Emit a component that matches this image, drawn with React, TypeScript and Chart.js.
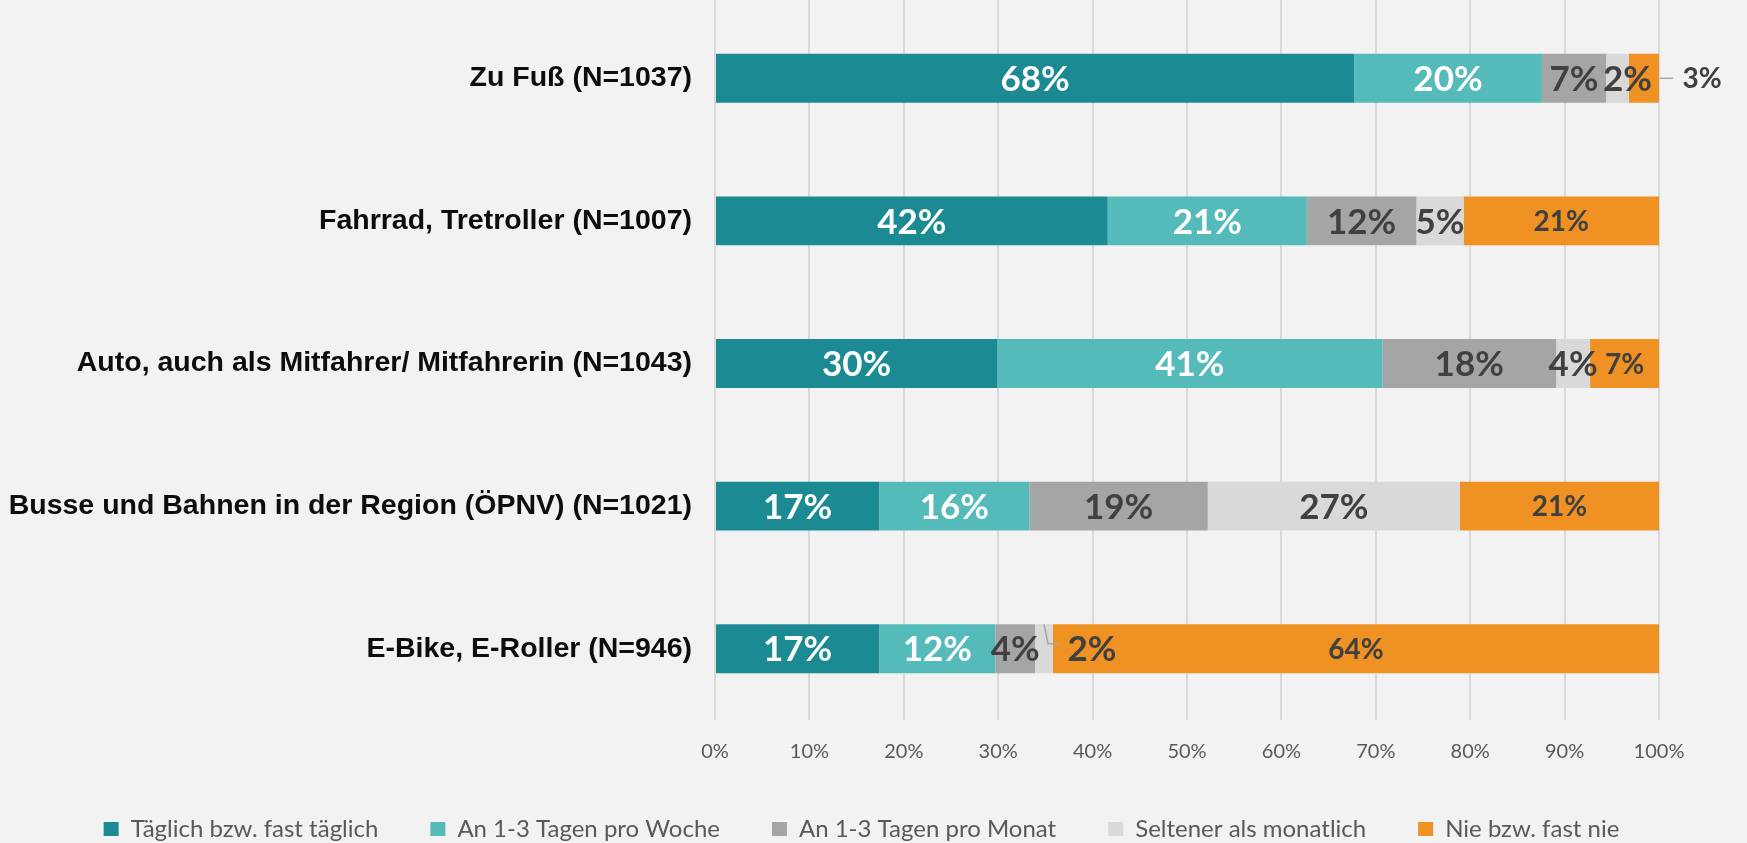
import React, { useEffect, useRef } from "react";
import { Chart, registerables } from "chart.js";

Chart.register(...registerables);

const categories = [
  "Zu Fuß (N=1037)",
  "Fahrrad, Tretroller (N=1007)",
  "Auto, auch als Mitfahrer/ Mitfahrerin (N=1043)",
  "Busse und Bahnen in der Region (ÖPNV) (N=1021)",
  "E-Bike, E-Roller (N=946)",
];

const seriesNames = [
  "Täglich bzw. fast täglich",
  "An 1-3 Tagen pro Woche",
  "An 1-3 Tagen pro Monat",
  "Seltener als monatlich",
  "Nie bzw. fast nie",
];

const taeglich = [67.7, 41.6, 29.9, 17.4, 17.4];
const proWoche = [19.9, 21.1, 40.8, 15.9, 12.3];
const proMonat = [6.8, 11.6, 18.4, 18.9, 4.2];
const seltener = [2.4, 5.0, 3.6, 26.7, 1.9];
const nie = [3.2, 20.7, 7.3, 21.1, 64.2];

const xTickValues = [0, 10, 20, 30, 40, 50, 60, 70, 80, 90, 100];

const seriesValues = [taeglich, proWoche, proMonat, seltener, nie];
const seriesColors = ["#1B8A93", "#55BBBA", "#A5A5A5", "#D9D9D9", "#EF9123"];

const labelStyles = [
  { color: "#FFFFFF", size: 35 },
  { color: "#FFFFFF", size: 35 },
  { color: "#404040", size: 35 },
  { color: "#404040", size: 35 },
  { color: "#404040", size: 28 },
];

const callouts = [
  { dataset: 4, index: 0, type: "right", dx: 43 },
  { dataset: 3, index: 0, type: "shift", dx: 10 },
  { dataset: 3, index: 4, type: "elbow", dx: 48 },
];

const bgPlugin = {
  id: "bg",
  beforeDraw(chart: any) {
    const ctx = chart.ctx;
    ctx.save();
    ctx.fillStyle = "#F2F2F2";
    ctx.fillRect(0, 0, chart.width, chart.height);
    ctx.restore();
  },
  beforeDatasetsDraw(chart: any) {
    const ctx = chart.ctx;
    const xs = chart.scales.x;
    ctx.save();
    ctx.strokeStyle = "#D9D9D9";
    ctx.lineWidth = 2;
    xTickValues.forEach((v) => {
      const px = Math.round(xs.getPixelForValue(v));
      ctx.beginPath();
      ctx.moveTo(px, 0);
      ctx.lineTo(px, chart.chartArea.top + 1);
      ctx.stroke();
    });
    ctx.restore();
  },
};

const segLabelPlugin = {
  id: "segLabels",
  afterDatasetsDraw(chart: any) {
    const ctx = chart.ctx;
    ctx.save();
    chart.data.datasets.forEach((ds: any, di: number) => {
      const meta = chart.getDatasetMeta(di);
      meta.data.forEach((el: any, i: number) => {
        const v = ds.data[i];
        const p = el.getProps(["x", "y", "base", "height"], true);
        const st = labelStyles[di];
        let cx = (p.x + p.base) / 2;
        const cy = p.y;
        const co = callouts.find((c) => c.dataset === di && c.index === i);
        ctx.strokeStyle = "#A6A6A6";
        ctx.lineWidth = 1.5;
        if (co) {
          if (co.type === "right") {
            ctx.beginPath();
            ctx.moveTo(p.x + 1, cy);
            ctx.lineTo(p.x + 14, cy);
            ctx.stroke();
            cx = p.x + co.dx;
          } else if (co.type === "elbow") {
            ctx.beginPath();
            ctx.moveTo(cx, cy - p.height / 2);
            ctx.lineTo(cx + 4, cy - 5);
            ctx.lineTo(cx + 16, cy - 5);
            ctx.stroke();
            cx = cx + co.dx;
          } else {
            cx = cx + co.dx;
          }
        }
        ctx.font = `bold ${st.size}px Lato`;
        ctx.fillStyle = st.color;
        ctx.textAlign = "center";
        ctx.textBaseline = "alphabetic";
        ctx.fillText(Math.round(v) + "%", cx, cy + st.size * 0.36);
      });
    });
    ctx.restore();
  },
};

export default function App() {
  const ref = useRef<HTMLCanvasElement | null>(null);

  useEffect(() => {
    document.body.style.margin = "0";
    document.body.style.background = "#F2F2F2";
    if (!ref.current) return;
    const chart = new Chart(ref.current, {
      type: "bar",
      data: {
        labels: categories,
        datasets: seriesNames.map((name, i) => ({
          label: name,
          data: seriesValues[i],
          backgroundColor: seriesColors[i],
          borderWidth: 0,
          barPercentage: 0.343,
          categoryPercentage: 1,
        })),
      },
      options: {
        indexAxis: "y",
        responsive: false,
        animation: false,
        devicePixelRatio: 1,
        layout: { padding: { top: 7, right: 24, left: 0, bottom: -8 } },
        scales: {
          x: {
            stacked: true,
            min: 0,
            max: 100,
            afterBuildTicks(scale: any) {
              scale.ticks = xTickValues.map((v) => ({ value: v }));
            },
            afterFit(scale: any) {
              scale.height = 45;
              scale.paddingRight = 88;
            },
            grid: { color: "#D9D9D9", lineWidth: 2, drawTicks: false },
            border: { display: false },
            ticks: {
              padding: 20,
              color: "#595959",
              font: { family: "Lato", size: 20 },
              callback: (v: any) => v + "%",
            },
          },
          y: {
            stacked: true,
            afterFit(scale: any) {
              scale.width = 715;
              scale.paddingTop = 0;
              scale.paddingBottom = 0;
            },
            grid: { display: false },
            border: { display: false },
            ticks: {
              padding: 15,
              color: "#0D0D0D",
              font: { family: "Liberation Sans", size: 28.5, weight: "bold" },
            },
          },
        },
        plugins: {
          legend: {
            position: "bottom",
            labels: {
              boxWidth: 15,
              boxHeight: 14,
              padding: 52,
              color: "#595959",
              font: { family: "Lato", size: 24 },
            },
          },
          tooltip: { enabled: false },
        },
      },
      plugins: [bgPlugin, segLabelPlugin],
    } as any);
    return () => chart.destroy();
  }, []);

  return (
    <div style={{ width: 1747, height: 843, background: "#F2F2F2" }}>
      <canvas ref={ref} width={1747} height={843} />
    </div>
  );
}
